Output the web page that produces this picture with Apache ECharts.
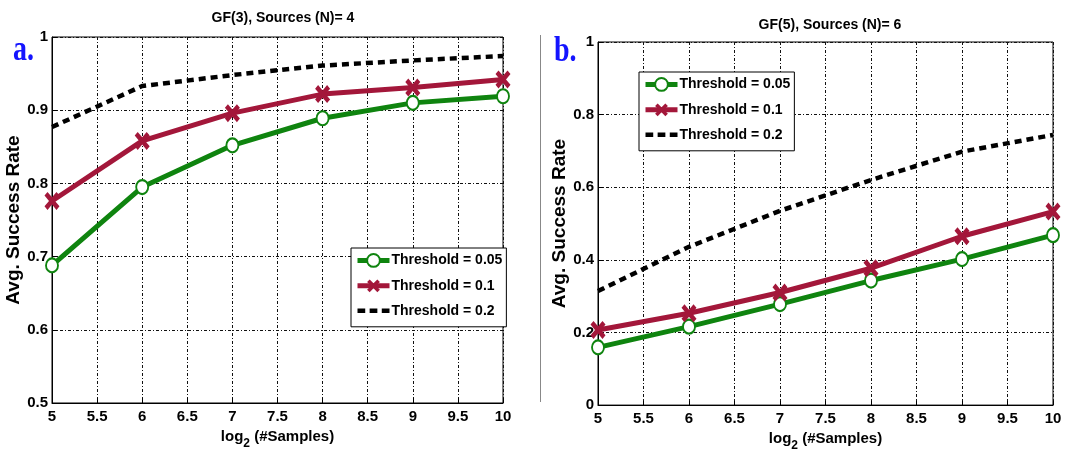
<!DOCTYPE html>
<html>
<head>
<meta charset="utf-8">
<script src="https://cdn.jsdelivr.net/npm/echarts@6/dist/echarts.min.js"></script>
<style>
  html, body { margin: 0; padding: 0; background: #fff; }
  #chart { width: 1083px; height: 457px; }
</style>
</head>
<body>
<div id="chart"></div>
<script>
// log2 of the number of samples
const samples = [5, 6, 7, 8, 9, 10]

// panel a: GF(3), N = 4
const gf3T005 = [0.688, 0.795, 0.852, 0.889, 0.910, 0.919]
const gf3T01 = [0.776, 0.858, 0.896, 0.922, 0.931, 0.942]
const gf3T02 = [0.877, 0.933, 0.948, 0.961, 0.968, 0.974]

// panel b: GF(5), N = 6
const gf5T005 = [0.159, 0.216, 0.278, 0.343, 0.402, 0.468]
const gf5T01 = [0.207, 0.253, 0.310, 0.377, 0.465, 0.533]
const gf5T02 = [0.314, 0.436, 0.535, 0.620, 0.698, 0.744]

const seriesNames = ['Threshold = 0.05', 'Threshold = 0.1', 'Threshold = 0.2']
const titles = ['GF(3), Sources (N)= 4', 'GF(5), Sources (N)= 6']

const sans = "'Liberation Sans', Arial, sans-serif"
const GREEN = '#0f840f'
const RED = '#a3173a'
const crossPath = 'path://M0,2 L2,0 L5,3 L8,0 L10,2 L7,5 L10,8 L8,10 L5,7 L2,10 L0,8 L3,5 Z'
const dashIcon = 'path://M0,0h7v4h-7Z M11,0h7v4h-7Z M22,0h7v4h-7Z'

const chart = echarts.init(document.getElementById('chart'), null, { renderer: 'canvas' })

const pairs = vals => samples.map((x, i) => [x, vals[i]])

const gridLine = { show: true, lineStyle: { color: '#111', width: 1, type: [3, 2, 1, 2] } }

function xAxisFor(gridIndex) {
    return {
        type: 'value',
        gridIndex,
        min: 5,
        max: 10,
        interval: 0.5,
        name: '{n|log}{s|2}{n| (#Samples)}',
        nameLocation: 'middle',
        nameGap: 20,
        nameTextStyle: {
            rich: {
                n: { fontFamily: sans, fontWeight: 'bold', fontSize: 15, color: '#000', verticalAlign: 'bottom', padding: [0, 0, 6, 0] },
                s: { fontFamily: sans, fontWeight: 'bold', fontSize: 12, color: '#000', verticalAlign: 'bottom' },
            },
        },
        axisLine: { show: true, lineStyle: { color: '#000', width: 1 } },
        axisTick: { show: true, inside: true, length: 5, lineStyle: { color: '#000' } },
        axisLabel: { color: '#000', fontFamily: sans, fontWeight: 'bold', fontSize: 15, margin: 6 },
        splitLine: gridLine,
    }
}

function yAxisFor(gridIndex, min, interval) {
    return {
        type: 'value',
        gridIndex,
        min,
        max: 1,
        interval,
        name: 'Avg. Success Rate',
        nameLocation: 'middle',
        nameGap: 24,
        nameTextStyle: { fontFamily: sans, fontWeight: 'bold', fontSize: 19, color: '#000' },
        axisLine: { show: true, lineStyle: { color: '#000', width: 1 } },
        axisTick: { show: true, inside: true, length: 5, lineStyle: { color: '#000' } },
        axisLabel: { color: '#000', fontFamily: sans, fontWeight: 'bold', fontSize: 15, margin: 4 },
        splitLine: gridLine,
    }
}

function seriesFor(idx, a, b, c) {
    return [
        {
            name: seriesNames[0], type: 'line', xAxisIndex: idx, yAxisIndex: idx,
            data: pairs(a), symbol: 'emptyCircle', symbolSize: [12, 14],
            lineStyle: { color: GREEN, width: 5 },
            itemStyle: { color: GREEN, borderColor: GREEN, borderWidth: 3 },
            z: 4,
        },
        {
            name: seriesNames[1], type: 'line', xAxisIndex: idx, yAxisIndex: idx,
            data: pairs(b), symbol: crossPath, symbolSize: [15, 18],
            lineStyle: { color: RED, width: 5 },
            itemStyle: { color: RED },
            z: 4,
        },
        {
            name: seriesNames[2], type: 'line', xAxisIndex: idx, yAxisIndex: idx,
            data: pairs(c), symbol: 'none',
            lineStyle: { color: '#000', width: 4.5, type: [7, 5] },
            itemStyle: { color: '#000' },
            z: 3,
        },
    ]
}

function legendFor(pos) {
    return Object.assign({
        orient: 'vertical',
        data: [
            { name: seriesNames[0] },
            { name: seriesNames[1] },
            { name: seriesNames[2], icon: dashIcon },
        ],
        itemWidth: 32,
        itemHeight: 16,
        itemGap: 11,
        padding: [5, 4, 9, 4],
        backgroundColor: '#fff',
        borderColor: '#000',
        borderWidth: 1,
        borderRadius: 0,
        selectedMode: false,
        lineStyle: { width: 5 },
        textStyle: { fontFamily: sans, fontWeight: 'bold', fontSize: 14, color: '#000', padding: [0, 0, 0, -3] },
    }, pos)
}

chart.setOption({
    animation: false,
    backgroundColor: '#fff',
    title: [
        { text: titles[0], left: 278, top: 6, textAlign: 'center', textStyle: { fontFamily: sans, fontWeight: 'bold', fontSize: 14, color: '#000' } },
        { text: titles[1], left: 825, top: 13, textAlign: 'center', textStyle: { fontFamily: sans, fontWeight: 'bold', fontSize: 14, color: '#000' } },
    ],
    grid: [
        { left: 52, top: 37, width: 451, height: 366, show: true, borderColor: '#000', borderWidth: 1, backgroundColor: '#fff' },
        { left: 598, top: 42, width: 455, height: 367, show: true, borderColor: '#000', borderWidth: 1, backgroundColor: '#fff' },
    ],
    xAxis: [xAxisFor(0), xAxisFor(1)],
    yAxis: [yAxisFor(0, 0.5, 0.1), yAxisFor(1, 0, 0.2)],
    legend: [
        legendFor({ left: 351, top: 248 }),
        legendFor({ left: 639, top: 72 }),
    ],
    graphic: [
        { type: 'text', left: 13, top: 32, scaleY: 1.3, style: { text: 'a.', fontFamily: "'Liberation Serif', serif", fontWeight: 'bold', fontSize: 28, fill: '#1414ff' } },
        { type: 'text', left: 554, top: 33, scaleY: 1.3, style: { text: 'b.', fontFamily: "'Liberation Serif', serif", fontWeight: 'bold', fontSize: 28, fill: '#1414ff' } },
        { type: 'line', shape: { x1: 540.5, y1: 35, x2: 540.5, y2: 402 }, style: { stroke: '#888', lineWidth: 1 } },
    ],
    series: [].concat(seriesFor(0, gf3T005, gf3T01, gf3T02), seriesFor(1, gf5T005, gf5T01, gf5T02)),
})
</script>
</body>
</html>
